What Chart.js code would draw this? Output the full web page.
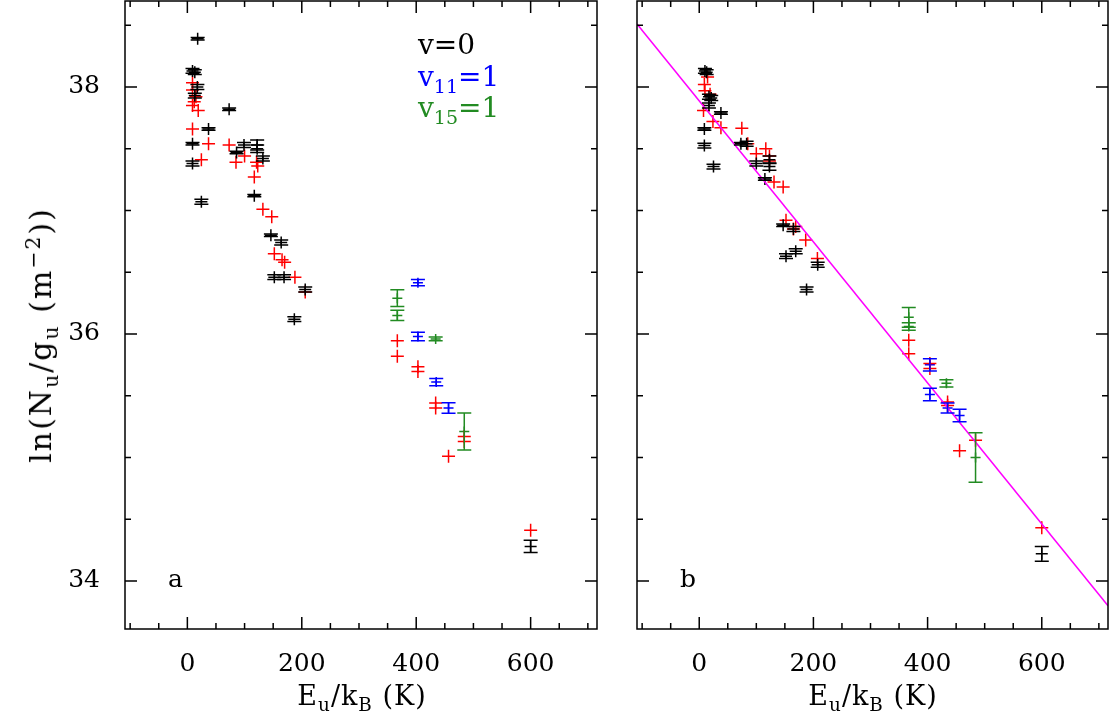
<!DOCTYPE html>
<html>
<head>
<meta charset="utf-8">
<script src="https://cdn.jsdelivr.net/npm/chart.js@4.4.1/dist/chart.umd.min.js"></script>
<style>
  html, body { margin: 0; padding: 0; background: #fff; overflow: hidden; }
  #wrap { position: relative; width: 1111px; height: 718px; font-family: "DejaVu Serif", serif; color: #000; }
  canvas { position: absolute; top: 0; }
  .t { position: absolute; white-space: nowrap; line-height: 1; }
  .t sub, .t sup { font-size: 68%; line-height: 0; }
</style>
</head>
<body>
<div id="wrap">
  <canvas id="panelA" width="600" height="718" style="left:0"></canvas>
  <canvas id="panelB" width="599" height="718" style="left:512px"></canvas>

  <div class="t" style="left:41px;top:335px;font-size:30px;letter-spacing:2px;transform:translate(-50%,-50%) rotate(-90deg)">ln(N<sub>u</sub>/g<sub>u</sub> (m<sup>&minus;2</sup>))</div>
  <div class="t" style="left:362px;top:695px;font-size:27px;letter-spacing:1px;transform:translate(-50%,-50%)">E<sub>u</sub>/k<sub>B</sub> (K)</div>
  <div class="t" style="left:873px;top:695px;font-size:27px;letter-spacing:1px;transform:translate(-50%,-50%)">E<sub>u</sub>/k<sub>B</sub> (K)</div>
  <div class="t" style="left:168px;top:566px;font-size:25px">a</div>
  <div class="t" style="left:680px;top:566px;font-size:25px">b</div>
  <div class="t" style="left:418px;top:31px;font-size:28px">v=0</div>
  <div class="t" style="left:418px;top:63px;font-size:28px;color:#0000ff">v<sub>11</sub>=1</div>
  <div class="t" style="left:418px;top:94px;font-size:28px;color:#228b22">v<sub>15</sub>=1</div>
</div>

<script>
// tick labels
const xTicks = [0, 200, 400, 600];
const yTicks = [34, 36, 38];

// panel a: [E_u/k_B, ln(N_u/g_u), error]
const blackA = [
  [9, 38.13, 0.02], [13, 38.12, 0.02], [18, 38.39, 0.01], [17.5, 38.0, 0.02], [13, 37.93, 0.02],
  [73, 37.82, 0.01], [37, 37.66, 0.01], [9, 37.54, 0.01], [99, 37.53, 0.02], [122, 37.53, 0.04],
  [122, 37.5, 0.03], [86, 37.47, 0.01], [132, 37.42, 0.02], [9, 37.38, 0.02], [24.5, 37.07, 0.02],
  [117, 37.12, 0.01], [146, 36.80, 0.01], [164, 36.74, 0.02], [152, 36.46, 0.02], [169, 36.46, 0.02],
  [206, 36.36, 0.02], [187, 36.12, 0.02], [600, 34.28, 0.05]
];
const redA = [
  [9, 38.035], [9, 37.976], [15, 37.92], [12, 37.88], [9, 37.85], [19, 37.81], [9, 37.66],
  [37, 37.54], [73, 37.53], [24.5, 37.41], [85, 37.39], [100, 37.44], [121, 37.39], [123, 37.36],
  [117, 37.27], [132, 37.01], [147.5, 36.95], [152, 36.65], [165.5, 36.6], [170, 36.58],
  [188, 36.46], [206, 36.34], [367, 35.946], [367, 35.82], [403, 35.735], [403, 35.695],
  [434, 35.44], [434, 35.4], [456.5, 35.01], [484, 35.13], [484, 35.17], [600, 34.41]
];
const blueA = [[403, 36.415, 0.025], [403, 35.98, 0.034], [435, 35.61, 0.03], [456.5, 35.40, 0.043]];
const greenA = [[367, 36.29, 0.067], [367, 36.15, 0.042], [434, 35.96, 0.015], [484, 35.21, 0.15]];

// panel b
const blackB = [
  [10, 38.13, 0.02], [13, 38.12, 0.02], [17, 37.92, 0.02], [21, 37.91, 0.02], [17, 37.85, 0.02],
  [38, 37.79, 0.01], [9, 37.66, 0.01], [9, 37.525, 0.02], [25, 37.355, 0.02], [73, 37.54, 0.01],
  [83, 37.54, 0.02], [100, 37.38, 0.02], [123, 37.41, 0.03], [123, 37.355, 0.03], [115, 37.255, 0.01],
  [147, 36.88, 0.01], [165, 36.85, 0.02], [152, 36.63, 0.02], [169, 36.67, 0.02], [207.5, 36.56, 0.02],
  [188, 36.36, 0.02], [600, 34.22, 0.06]
];
const redB = [
  [14.6, 38.08], [9, 38.02], [10, 37.97], [19, 37.94], [7.5, 37.81], [24, 37.72], [38, 37.67],
  [74.6, 37.665], [85, 37.54], [100, 37.46], [116.6, 37.50], [123, 37.44], [123, 37.40], [131, 37.23],
  [147, 37.19], [152, 36.92], [165, 36.85], [169, 36.87], [186.5, 36.76], [207, 36.61], [367, 35.95],
  [367, 35.84], [404, 35.76], [404, 35.72], [435, 35.45], [435, 35.42], [456, 35.055], [484, 35.14],
  [600, 34.43]
];
const blueB = [[404, 35.75, 0.05], [404, 35.51, 0.05], [435, 35.40, 0.04], [456, 35.34, 0.05]];
const greenB = [[367, 36.135, 0.08], [367, 36.06, 0.03], [433, 35.60, 0.03], [484, 35.0, 0.2]];
const fitLineB = [[-109, 38.51], [716, 33.80]];

const tickFont = { family: 'DejaVu Serif', size: 25 };

// frame with inward ticks on all four sides
const frameTicks = {
  id: 'frameTicks',
  afterDraw(chart) {
    const { ctx, chartArea: a, scales: { x, y } } = chart;
    ctx.save();
    ctx.strokeStyle = '#000';
    ctx.lineWidth = 1.5;
    ctx.strokeRect(a.left, a.top, a.right - a.left, a.bottom - a.top);
    ctx.beginPath();
    for (let v = -100; v <= 700; v += 50) {
      const px = x.getPixelForValue(v);
      const len = v % 200 === 0 ? 12 : 6;
      ctx.moveTo(px, a.bottom); ctx.lineTo(px, a.bottom - len);
      ctx.moveTo(px, a.top); ctx.lineTo(px, a.top + len);
    }
    for (let v = 34; v <= 38.5; v += 0.5) {
      const py = y.getPixelForValue(v);
      const len = v % 2 === 0 ? 12 : 6;
      ctx.moveTo(a.left, py); ctx.lineTo(a.left + len, py);
      ctx.moveTo(a.right, py); ctx.lineTo(a.right - len, py);
    }
    ctx.stroke();
    ctx.restore();
  }
};

// vertical error bars with caps
const errorBars = {
  id: 'errorBars',
  afterDatasetsDraw(chart) {
    const { ctx, scales: { x, y } } = chart;
    ctx.save();
    chart.data.datasets.forEach(ds => {
      if (!ds.errs) return;
      ctx.strokeStyle = ds.borderColor;
      ctx.lineWidth = 1.5;
      ds.data.forEach((p, i) => {
        const px = x.getPixelForValue(p.x);
        const top = y.getPixelForValue(p.y + ds.errs[i]);
        const bot = y.getPixelForValue(p.y - ds.errs[i]);
        ctx.beginPath();
        ctx.moveTo(px, top); ctx.lineTo(px, bot);
        ctx.moveTo(px - 7, top); ctx.lineTo(px + 7, top);
        ctx.moveTo(px - 7, bot); ctx.lineTo(px + 7, bot);
        ctx.stroke();
      });
    });
    ctx.restore();
  }
};

const pts = arr => arr.map(p => ({ x: p[0], y: p[1] }));

function errSet(arr, color, r) {
  return {
    data: pts(arr), errs: arr.map(p => p[2]),
    borderColor: color, backgroundColor: color,
    pointStyle: 'cross', pointRadius: r, borderWidth: 1.5, pointHoverRadius: r
  };
}

function makePanel(id, black, red, blue, green, fit, showY) {
  const datasets = [
    errSet(black, '#000000', 6),
    { data: pts(red), borderColor: '#ff0000', backgroundColor: '#ff0000',
      pointStyle: 'cross', pointRadius: 6.5, borderWidth: 1.5 },
    errSet(blue, '#0000ff', 5),
    errSet(green, '#228b22', 5)
  ];
  if (fit) {
    datasets.unshift({ type: 'line', data: pts(fit), borderColor: '#ff00ff',
      borderWidth: 1.5, pointRadius: 0, fill: false });
  }
  return new Chart(document.getElementById(id), {
    type: 'scatter',
    data: { datasets },
    options: {
      responsive: false,
      animation: false,
      events: [],
      layout: { autoPadding: false, padding: { top: 1, right: 3, left: 0, bottom: 0 } },
      plugins: { legend: { display: false }, tooltip: { enabled: false } },
      scales: {
        x: {
          type: 'linear', min: -109, max: 716,
          grid: { display: false }, border: { display: false },
          afterBuildTicks: s => { s.ticks = xTicks.map(v => ({ value: v })); },
          afterFit: s => { s.height = 89; s.paddingLeft = 0; s.paddingRight = 0; },
          ticks: { font: tickFont, color: '#000', padding: 12, maxRotation: 0 }
        },
        y: {
          type: 'linear', min: 33.611, max: 38.696,
          grid: { display: false }, border: { display: false },
          afterBuildTicks: s => { s.ticks = yTicks.map(v => ({ value: v })); },
          afterFit: s => { s.width = 125; s.paddingTop = 0; s.paddingBottom = 0; },
          ticks: { display: showY, font: tickFont, color: '#000', padding: 17 }
        }
      }
    },
    plugins: [frameTicks, errorBars]
  });
}

makePanel('panelA', blackA, redA, blueA, greenA, null, true);
makePanel('panelB', blackB, redB, blueB, greenB, fitLineB, false);
</script>
</body>
</html>
